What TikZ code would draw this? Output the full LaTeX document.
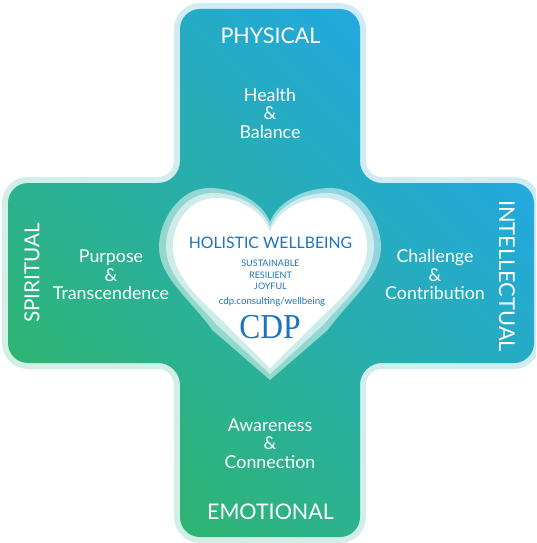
\documentclass[tikz,border=0pt]{standalone}
\usepackage{fontspec}
\setmainfont{Lato}
\newfontfamily\cdpserif{Liberation Serif}
\definecolor{cdpblue}{HTML}{1B75BC}
\definecolor{gradgreen}{HTML}{2FB56F}
\definecolor{gradmid}{HTML}{21B09F}
\definecolor{gradblue}{HTML}{22A8E3}
\definecolor{halogreen}{HTML}{D2EFE5}
\definecolor{halomid}{HTML}{D2EEEC}
\definecolor{haloblue}{HTML}{D0EBF6}
\newcommand{\crossshape}[2]{% #1 offset outward, #2 base
  (180-#1,29) arc[start angle=-180,end angle=-90,radius=20+#1]
  -- (340,9-#1) arc[start angle=-90,end angle=0,radius=20+#1]
  -- (360+#1,161) arc[start angle=-180,end angle=-270,radius=22-#1]
  -- (514,183-#1) arc[start angle=-90,end angle=0,radius=20+#1]
  -- (534+#1,343) arc[start angle=0,end angle=90,radius=20+#1]
  -- (382,363+#1) arc[start angle=-90,end angle=-180,radius=22-#1]
  -- (360+#1,517) arc[start angle=0,end angle=90,radius=20+#1]
  -- (200,537+#1) arc[start angle=90,end angle=180,radius=20+#1]
  -- (180-#1,385) arc[start angle=0,end angle=-90,radius=22-#1]
  -- (28,363+#1) arc[start angle=90,end angle=180,radius=20+#1]
  -- (8-#1,203) arc[start angle=-180,end angle=-90,radius=20+#1]
  -- (158,183-#1) arc[start angle=90,end angle=0,radius=22-#1]
  -- cycle}
\newcommand{\heartshape}[5]{% #1 half width, #2 top y, #3 notch y, #4 tip y, #5 widest y
  (270,#3)
  .. controls (270+0.06*#1,#3-18) and (270+0.28*#1,#2) .. (270+0.55*#1,#2)
  .. controls (270+0.82*#1,#2) and (270+#1,#5-26) .. (270+#1,#5)
  .. controls (270+#1,#5+30) and (270+0.72*#1,#5+52) .. (270+0.52*#1,#4-50)
  -- (270,#4)
  -- (270-0.52*#1,#4-50)
  .. controls (270-0.72*#1,#5+52) and (270-#1,#5+30) .. (270-#1,#5)
  .. controls (270-#1,#5-26) and (270-0.82*#1,#2) .. (270-0.55*#1,#2)
  .. controls (270-0.28*#1,#2) and (270-0.06*#1,#3-18) .. (270,#3)
  -- cycle}
\tikzset{
  x=1pt,y=-1pt,
  armlabel/.style={text=white,align=center,inner sep=0pt,font=\fontsize{17.8}{18.5}\selectfont},
  armtitle/.style={text=white,inner sep=0pt,font=\fontsize{21.5}{22}\selectfont},
  heartsmall/.style={text=cdpblue,inner sep=0pt,font=\fontsize{9}{11}\selectfont},
}
\begin{document}
\begin{tikzpicture}
\useasboundingbox (0,0) rectangle (536,543);
\clip (0,0) rectangle (536,543);
\shade[bottom color=halogreen,middle color=halomid,top color=haloblue,shading angle=-45] \crossshape{6}{0};
\shade[bottom color=gradgreen,middle color=gradmid,top color=gradblue,shading angle=-45] \crossshape{0}{0};
\fill[white,opacity=0.5] \heartshape{111}{188}{222}{380}{247};
\fill[white,opacity=0.55] \heartshape{104}{193}{227}{374}{247};
\fill[white] \heartshape{97}{198}{232}{368}{247};
\node[armtitle] (physical) at (270.5,35.5) {PHYSICAL};
\node[armlabel] (health) at (270,113.5) {Health\\\&\\Balance};
\node[armtitle] (emotional) at (270.5,512) {EMOTIONAL};
\node[armlabel] (awareness) at (270,443.5) {Awareness\\\&\\Connection};
\node[armtitle,rotate=90,font=\fontsize{20.7}{22}\selectfont] (spiritual) at (32,273) {SPIRITUAL};
\node[armlabel] (purpose) at (111,275) {Purpose\\\&\\Transcendence};
\node[armtitle,rotate=-90,font=\fontsize{21.8}{22}\selectfont] (intellectual) at (507,276) {INTELLECTUAL};
\node[armlabel] (challenge) at (435,275) {Challenge\\\&\\Contribution};
\node[text=cdpblue,inner sep=0pt,font=\fontsize{15.8}{17}\selectfont] (holistic) at (270.5,243) {HOLISTIC WELLBEING};
\node[heartsmall] (sustainable) at (270.5,263.5) {SUSTAINABLE};
\node[heartsmall] (resilient) at (270.5,275.5) {RESILIENT};
\node[heartsmall] (joyful) at (270.5,286.5) {JOYFUL};
\node[text=cdpblue,inner sep=0pt,font=\fontsize{9.7}{12}\selectfont] (url) at (272,302) {cdp.consulting/wellbeing};
\node[text=cdpblue,inner sep=0pt,xscale=0.9,font=\cdpserif\fontsize{35}{36}\selectfont] (cdp) at (270,327) {CDP};
\end{tikzpicture}
\end{document}
